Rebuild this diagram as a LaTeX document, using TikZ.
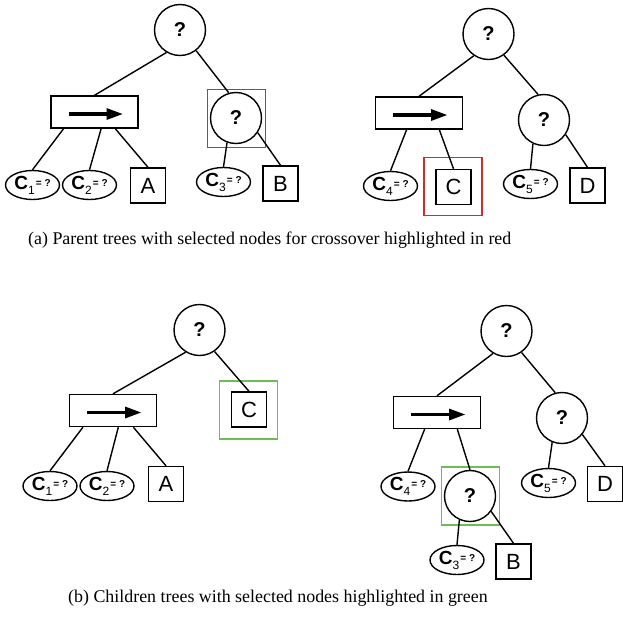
\documentclass[tikz,border=0pt]{standalone}
\usepackage{fontspec}
\setmainfont{Liberation Serif}
\newfontfamily\hv{Liberation Sans}
\usetikzlibrary{shapes.geometric,calc}
\definecolor{selred}{RGB}{226,38,38}
\definecolor{selgreen}{RGB}{108,190,82}
\newcommand\cvar[1]{{\hv\bfseries\fontsize{19}{19}\selectfont C}\raisebox{-5pt}{\hv\fontsize{12}{12}\selectfont #1}\hspace{1.2pt}\raisebox{3pt}{\hv\bfseries\fontsize{10}{10}\selectfont = ?}}
\newcommand\oparrow[1]{%
  \draw[line width=3.3pt] ($(#1.center)+(-26,2)$) -- ++(38,0);
  \fill ($(#1.center)+(28,2)$) -- ++(-16,-6) -- ++(0,12) -- cycle;}
\newcommand\opbot[2]{($(#1.south west)!#2!(#1.south east)$)}
\begin{document}
\begin{tikzpicture}[x=1pt,y=-1pt,
  qnode/.style={circle,draw,line width=1.4pt,inner sep=0pt,minimum size=51pt,font=\hv\bfseries\fontsize{20}{20}\selectfont},
  opnode/.style={rectangle,draw,line width=1.4pt,minimum width=87pt,minimum height=32pt,inner sep=0pt},
  leaf/.style={rectangle,draw,line width=1.4pt,minimum size=35pt,inner sep=0pt,font=\hv\fontsize{22}{22}\selectfont},
  cnode/.style={ellipse,draw,line width=1.4pt,minimum width=54pt,minimum height=29pt,inner sep=0pt},
  selbox/.style={rectangle,draw,line width=1.8pt,minimum size=58pt,inner sep=0pt},
  conn/.style={line width=1.4pt},
  captext/.style={anchor=west,inner sep=0pt,font=\fontsize{17.9}{20}\selectfont}]
\useasboundingbox (0,0) rectangle (623,619);

% ---------- top-left tree ----------
\node[qnode] (rootA) at (180,30) {?};
\node[opnode] (opA) at (94.5,112) {};
\oparrow{opA}
\node[qnode] (qA) at (236,118) {?};
\node[cnode] (c1A) at (32.5,185) {\cvar{1}};
\node[cnode] (c2A) at (89.5,185) {\cvar{2}};
\node[leaf] (lA) at (148,185.5) {A};
\node[cnode] (c3A) at (223.5,182) {\cvar{3}};
\node[leaf] (lB) at (280.5,183.5) {B};
\node[selbox,draw=selred] (sA) at (236.5,118.5) {};
\draw[conn] (rootA.239) -- (opA.north);
\draw[conn] (rootA.308) -- (qA.106);
\draw[conn] \opbot{opA}{0.15} -- (c1A.north);
\draw[conn] \opbot{opA}{0.575} -- (c2A.north);
\draw[conn] \opbot{opA}{0.735} -- (lA.north);
\draw[conn] (qA.250) -- (c3A.north);
\draw[conn] (qA.326) -- (lB.north);

% ---------- top-right tree ----------
\node[qnode] (rootB) at (488.5,34) {?};
\node[opnode] (opB) at (419,113) {};
\oparrow{opB}
\node[qnode] (qB) at (544,120) {?};
\node[cnode] (c4B) at (390.5,186) {\cvar{4}};
\node[leaf] (lC) at (453.5,187) {C};
\node[cnode] (c5B) at (530.5,184) {\cvar{5}};
\node[leaf] (lD) at (587.5,185.5) {D};
\node[selbox,draw=selred] (sB) at (453,186.5) {};
\draw[conn] (rootB.236) -- (opB.north);
\draw[conn] (rootB.306) -- (qB.103);
\draw[conn] \opbot{opB}{0.36} -- (c4B.north);
\draw[conn] \opbot{opB}{0.73} -- (lC.north);
\draw[conn] (qB.245) -- (c5B.north);
\draw[conn] (qB.326) -- (lD.north);

\node[captext] (capA) at (28,240) {(a) Parent trees with selected nodes for crossover highlighted in red};

% ---------- bottom-left tree ----------
\node[qnode] (rootC) at (199.5,330) {?};
\node[opnode] (opC) at (113,410.5) {};
\oparrow{opC}
\node[leaf] (lC2) at (249,409.5) {C};
\node[cnode] (c1C) at (50,486) {\cvar{1}};
\node[cnode] (c2C) at (107,486) {\cvar{2}};
\node[leaf] (lA2) at (166,484) {A};
\node[selbox,draw=selgreen] (sC) at (248.5,410) {};
\draw[conn] (rootC.238) -- (opC.north);
\draw[conn] (rootC.305) -- (lC2.north);
\draw[conn] \opbot{opC}{0.16} -- (c1C.north);
\draw[conn] \opbot{opC}{0.56} -- (c2C.north);
\draw[conn] \opbot{opC}{0.73} -- (lA2.north);

% ---------- bottom-right tree ----------
\node[qnode] (rootD) at (506.5,331) {?};
\node[opnode] (opD) at (437,412.5) {};
\oparrow{opD}
\node[qnode] (qD) at (562,418) {?};
\node[cnode] (c4D) at (408,486.5) {\cvar{4}};
\node[qnode] (qE) at (470,496) {?};
\node[cnode] (c5D) at (548.5,483) {\cvar{5}};
\node[leaf] (lD2) at (605,484) {D};
\node[cnode] (c3D) at (457,560) {\cvar{3}};
\node[leaf] (lB2) at (513.5,561.5) {B};
\node[selbox,draw=selgreen] (sD) at (470.5,496) {};
\draw[conn] (rootD.239) -- (opD.north);
\draw[conn] (rootD.305) -- (qD.105);
\draw[conn] \opbot{opD}{0.36} -- (c4D.north);
\draw[conn] \opbot{opD}{0.73} -- (qE.north);
\draw[conn] (qD.248) -- (c5D.north);
\draw[conn] (qD.321) -- (lD2.north);
\draw[conn] (qE.246) -- (c3D.north);
\draw[conn] (qE.324) -- (lB2.north);

\node[captext] (capB) at (68,598) {(b) Children trees with selected nodes highlighted in green};
\end{tikzpicture}
\end{document}
